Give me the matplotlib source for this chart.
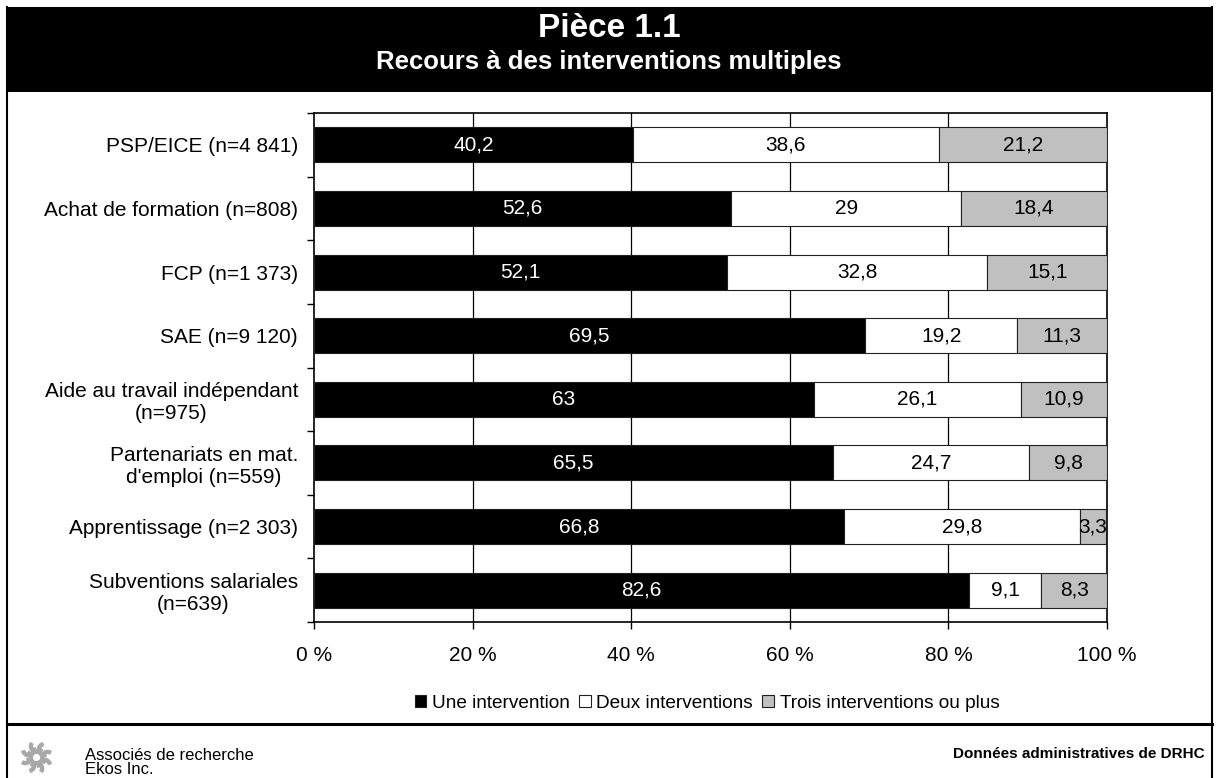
import numpy as np
import matplotlib.pyplot as plt
from matplotlib.patches import Rectangle, Wedge
from matplotlib.lines import Line2D

plt.rcParams['font.family'] = ['Liberation Sans', 'DejaVu Sans']

categories = [
    "PSP/EICE (n=4 841)",
    "Achat de formation (n=808)",
    "FCP (n=1 373)",
    "SAE (n=9 120)",
    "Aide au travail indépendant\n(n=975)",
    "Partenariats en mat.\nd'emploi (n=559)",
    "Apprentissage (n=2 303)",
    "Subventions salariales\n(n=639)",
]
une = [40.2, 52.6, 52.1, 69.5, 63, 65.5, 66.8, 82.6]
deux = [38.6, 29, 32.8, 19.2, 26.1, 24.7, 29.8, 9.1]
trois = [21.2, 18.4, 15.1, 11.3, 10.9, 9.8, 3.3, 8.3]
series_names = ["Une intervention", "Deux interventions", "Trois interventions ou plus"]
series_colors = ["#000000", "#ffffff", "#c0c0c0"]
text_colors = ["white", "black", "black"]
x_ticks = [0, 20, 40, 60, 80, 100]

W, H = 1218, 778
fig = plt.figure(figsize=(W / 100, H / 100), dpi=100)

def fx(px):
    return px / W

def fy(py):
    return 1 - py / H

# header band and frame
fig.patches.append(Rectangle((fx(7), fy(92)), fx(1212) - fx(7), fy(7) - fy(92),
                             transform=fig.transFigure, facecolor="black", edgecolor="none"))
for x in (7, 1212):
    fig.add_artist(Line2D([fx(x), fx(x)], [fy(7), 0], transform=fig.transFigure,
                          color="black", lw=1.5))
fig.add_artist(Line2D([fx(7), fx(1212)], [fy(724), fy(724)], transform=fig.transFigure,
                      color="black", lw=2.2))
fig.text(0.5, fy(37), "Pièce 1.1", color="white", fontsize=24, fontweight="bold",
         ha="center", va="baseline")
fig.text(0.5, fy(69), "Recours à des interventions multiples", color="white",
         fontsize=18.5, fontweight="bold", ha="center", va="baseline")

ax = fig.add_axes([fx(314), fy(622), fx(1107) - fx(314), fy(113) - fy(622)])
y = np.arange(len(categories))
left = np.zeros(len(categories))
for vals, name, col, tcol in zip([une, deux, trois], series_names, series_colors, text_colors):
    vals = np.array(vals, dtype=float)
    bars = ax.barh(y, vals, left=left, height=0.55, color=col, edgecolor="#202020",
                   linewidth=0.8, label=name, zorder=3)
    for b, v in zip(bars, vals):
        t = ax.text(b.get_x() + b.get_width() / 2, b.get_y() + b.get_height() / 2,
                    f"{v:g}".replace(".", ","), ha="center", va="center",
                    color=tcol, fontsize=15, zorder=4)
        t.set_clip_path(b)
    left += vals

ax.set_xlim(0, 100)
ax.set_ylim(len(categories) - 0.5, -0.5)
ax.set_xticks(x_ticks)
ax.set_xticklabels([f"{v} %" for v in x_ticks], fontsize=15)
ax.set_yticks(y)
ax.set_yticklabels(categories, fontsize=15, multialignment="center")
ax.set_yticks(np.arange(len(categories) + 1) - 0.5, minor=True)
ax.tick_params(axis="y", which="major", length=0, pad=11.5)
ax.tick_params(axis="y", which="minor", length=5, width=1, color="black")
ax.tick_params(axis="x", length=5, width=1, pad=12, color="black")
for xv in x_ticks[1:-1]:
    ax.axvline(xv, color="black", lw=0.9, zorder=1)
for s in ax.spines.values():
    s.set_color("black")
    s.set_linewidth(1.2)

fig.legend(loc="center", bbox_to_anchor=(fx(707), fy(703)), ncol=3, frameon=False,
           fontsize=13.7, handlelength=0.6, handleheight=0.6, handletextpad=0.3,
           columnspacing=0.5, borderpad=0)

# footer
logo = fig.add_axes([fx(15), fy(778), fx(58) - fx(15), fy(737) - fy(778)])
logo.set_aspect("equal")
logo.axis("off")
for k in range(8):
    a = k * 45
    c = (0.6 * np.cos(np.radians(a)), 0.6 * np.sin(np.radians(a)))
    logo.add_patch(Wedge(c, 0.38, a + 60, a + 240, width=0.16, color="#a8a8a8"))
logo.set_xlim(-1.1, 1.1)
logo.set_ylim(-1.1, 1.1)
fig.text(fx(85), fy(774), "Associés de recherche\nEkos Inc.", fontsize=12,
         ha="left", va="baseline", linespacing=0.95)
fig.text(fx(1205), fy(758), "Données administratives de DRHC", fontsize=11,
         fontweight="bold", ha="right", va="baseline")

fig.savefig("out.png", dpi=100)
